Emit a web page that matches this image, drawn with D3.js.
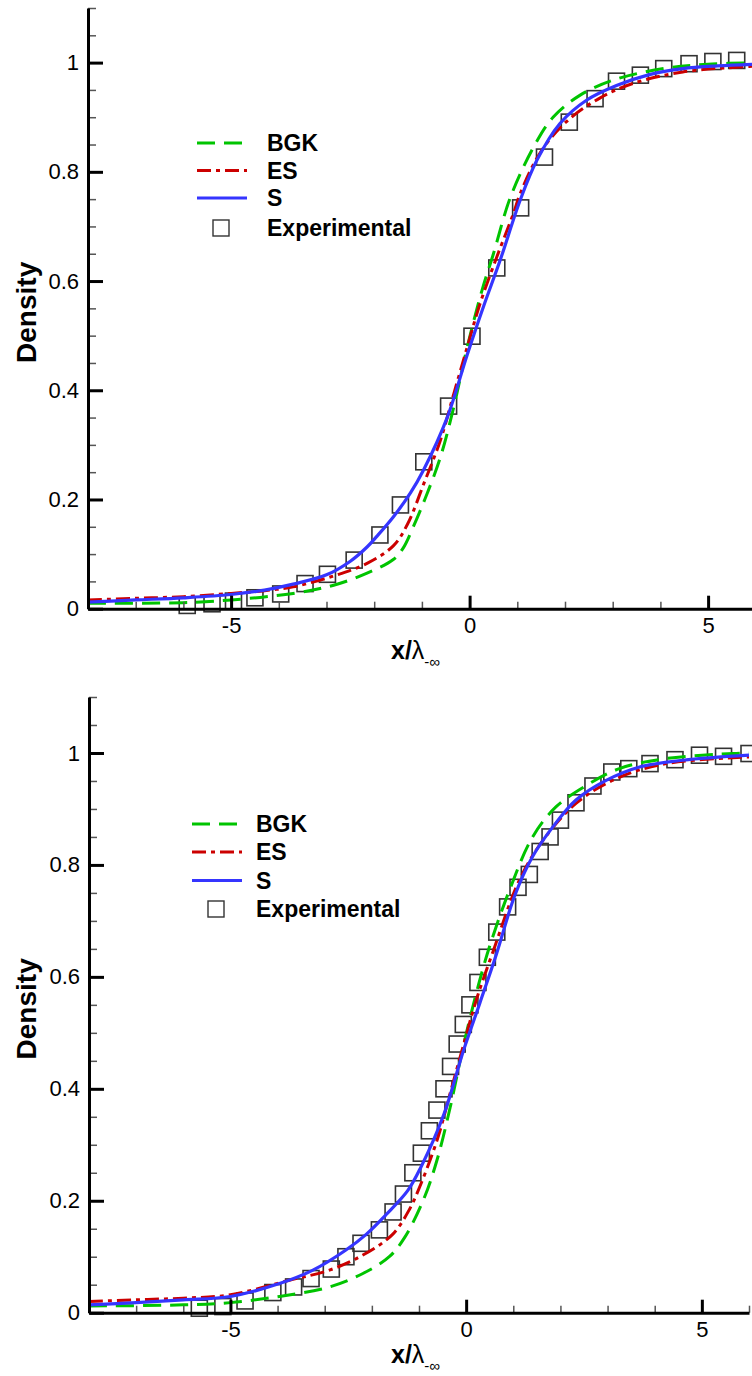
<!DOCTYPE html>
<html>
<head>
<meta charset="utf-8">
<script src="https://cdn.jsdelivr.net/npm/d3@7.9.0/dist/d3.min.js"></script>
<style>
  body { margin: 0; background: #fff; }
  svg { display: block; font-family: "Liberation Sans", Arial, sans-serif; }
</style>
</head>
<body>
<svg id="chart" width="752" height="1376"></svg>
<script>
// ---- data (x / lambda, density) ----
// top panel
const bgk1 = [[-8,0.010],[-6,0.011],[-5,0.016],[-3.7,0.028],[-2.85,0.043],[-2.15,0.065],[-1.6,0.090],[-1.4,0.110],
  [-1.17,0.152],[-0.89,0.211],[-0.61,0.278],[-0.33,0.370],[-0.05,0.479],[0.26,0.583],[0.5,0.650],[0.85,0.752],
  [1.34,0.845],[1.75,0.900],[2.31,0.940],[3.01,0.968],[4.12,0.990],[5.0,0.997],[6,1.0]];
const es1 = [[-8,0.016],[-7,0.019],[-6,0.022],[-5,0.028],[-4.3,0.033],[-3.7,0.040],[-2.85,0.060],[-2.15,0.083],
  [-1.6,0.115],[-1.3,0.155],[-0.96,0.229],[-0.61,0.309],[-0.33,0.394],[-0.05,0.479],[0.22,0.559],[0.57,0.644],
  [0.92,0.724],[1.06,0.760],[1.48,0.835],[2.03,0.892],[2.73,0.935],[3.43,0.962],[4.47,0.983],[5.86,0.993],[6,0.994]];
const s1 = [[-8,0.012],[-7,0.016],[-6,0.020],[-5,0.026],[-4.3,0.034],[-3.7,0.045],[-3.0,0.062],[-2.5,0.087],
  [-2.15,0.113],[-1.94,0.133],[-1.6,0.168],[-1.24,0.212],[-0.96,0.255],[-0.47,0.350],[-0.05,0.465],[0.29,0.553],
  [0.64,0.638],[1.06,0.748],[1.41,0.821],[1.89,0.888],[2.45,0.931],[3.08,0.958],[3.77,0.978],[4.47,0.989],
  [5.2,0.994],[6,0.997]];
const exp1 = [[-5.92,0.006],[-5.4,0.009],[-4.95,0.014],[-4.5,0.020],[-3.96,0.027],[-3.45,0.046],[-2.98,0.063],
  [-2.42,0.089],[-1.88,0.135],[-1.45,0.19],[-0.96,0.269],[-0.44,0.371],[0.05,0.499],[0.57,0.624],[1.07,0.734],
  [1.57,0.827],[2.09,0.891],[2.63,0.934],[3.08,0.966],[3.58,0.977],[4.07,0.989],[4.6,0.998],[5.1,1.002],[5.6,1.004]];

// bottom panel
const bgk2 = [[-8,0.012],[-6,0.014],[-5,0.018],[-3.96,0.029],[-2.9,0.046],[-2.19,0.070],[-1.63,0.100],[-1.3,0.135],
  [-0.89,0.205],[-0.61,0.275],[-0.33,0.370],[-0.05,0.480],[0.26,0.585],[0.5,0.655],[0.92,0.755],[1.41,0.850],
  [1.91,0.904],[2.55,0.942],[3.25,0.972],[4.24,0.990],[5.66,0.999],[6,1.0]];
const es2 = [[-8,0.020],[-7,0.023],[-6,0.026],[-5,0.032],[-3.75,0.058],[-2.9,0.076],[-2.19,0.103],[-1.56,0.140],
  [-1.2,0.185],[-0.96,0.230],[-0.61,0.310],[-0.33,0.395],[-0.05,0.480],[0.22,0.560],[0.57,0.645],[1.13,0.773],
  [1.63,0.844],[2.33,0.910],[3.18,0.954],[4.24,0.981],[6,0.993]];
const s2 = [[-8,0.014],[-7,0.018],[-6,0.023],[-5,0.029],[-3.96,0.052],[-3.25,0.076],[-2.55,0.112],[-2.12,0.140],
  [-1.7,0.175],[-1.24,0.218],[-0.96,0.260],[-0.47,0.355],[-0.05,0.470],[0.29,0.553],[0.64,0.640],[1.03,0.745],
  [1.41,0.815],[1.84,0.868],[2.33,0.916],[2.97,0.951],[3.68,0.975],[4.6,0.987],[6,0.996]];
const exp2 = [[-5.66,0.008],[-5.16,0.011],[-4.69,0.021],[-4.1,0.036],[-3.66,0.046],[-3.29,0.061],[-2.86,0.078],
  [-2.55,0.100],[-2.23,0.124],[-1.84,0.148],[-1.55,0.180],[-1.33,0.212],[-1.13,0.25],[-0.95,0.285],[-0.78,0.325],
  [-0.62,0.362],[-0.47,0.40],[-0.33,0.44],[-0.19,0.48],[-0.06,0.515],[0.08,0.55],[0.25,0.59],[0.45,0.635],[0.65,0.68],
  [0.88,0.725],[1.1,0.76],[1.34,0.783],[1.57,0.824],[1.78,0.85],[2.0,0.88],[2.33,0.911],[2.69,0.941],[3.09,0.966],
  [3.45,0.972],[3.9,0.981],[4.43,0.988],[4.95,0.996],[5.46,0.994],[6.0,0.999]];

const legendNames = ['BGK', 'ES', 'S', 'Experimental'];
const yMajor = [0, 0.2, 0.4, 0.6, 0.8, 1];
const yMinor = d3.range(1, 23).map(i => i * 0.05).filter(v => Math.abs(v / 0.2 - Math.round(v / 0.2)) > 1e-6);
const xMajor = [-5, 0, 5];
const xMinor = [-7, -6, -4, -3, -2, -1, 1, 2, 3, 4, 6];

const styles = {
  BGK: { color: '#00c400', dash: '18,9', width: 3 },
  ES:  { color: '#cc0000', dash: '14,5,4,5', width: 3 },
  S:   { color: '#3535ff', dash: null, width: 3.2 },
};

const svg = d3.select('#chart');

function drawPanel(p) {
  const x = d3.scaleLinear().domain([-8, 6]).range([p.left, p.right]);
  const y = d3.scaleLinear().domain([0, 1.1]).range([p.bottom, p.top]);
  const g = svg.append('g');

  const line = d3.line().x(d => x(d[0])).y(d => y(d[1])).curve(d3.curveCatmullRom.alpha(0.5));
  const series = [['BGK', p.bgk], ['ES', p.es], ['S', p.s]];

  // squares first, lines over them
  g.append('g').selectAll('rect')
    .data(p.exp)
    .join('rect')
    .attr('x', d => x(d[0]) - 8)
    .attr('y', d => y(d[1]) - 8)
    .attr('width', 16)
    .attr('height', 16)
    .attr('fill', 'none')
    .attr('stroke', '#333')
    .attr('stroke-width', 1.6);

  series.forEach(([name, data]) => {
    const st = styles[name];
    g.append('path')
      .datum(data)
      .attr('d', line)
      .attr('fill', 'none')
      .attr('stroke', st.color)
      .attr('stroke-width', st.width)
      .attr('stroke-dasharray', st.dash);
  });

  // y axis: minor then major ticks, pointing inward
  const yMin = g.append('g').attr('transform', `translate(${p.left},0)`)
    .call(d3.axisLeft(y).tickValues(yMinor).tickSize(-8).tickSizeOuter(0).tickFormat(''));
  yMin.select('.domain').remove();
  yMin.selectAll('.tick line').attr('stroke', '#555').attr('stroke-width', 1.5);

  const yAx = g.append('g').attr('transform', `translate(${p.left},0)`)
    .call(d3.axisLeft(y).tickValues(yMajor).tickSize(-15).tickSizeOuter(0).tickPadding(9)
      .tickFormat(d => String(d)));
  yAx.select('.domain').attr('stroke', '#000').attr('stroke-width', 3);
  yAx.selectAll('.tick line').attr('stroke-width', 3);
  yAx.selectAll('.tick text').attr('font-size', 22).attr('font-family', '"Liberation Sans", Arial, sans-serif');

  // x axis
  const xMin = g.append('g').attr('transform', `translate(0,${p.bottom})`)
    .call(d3.axisBottom(x).tickValues(xMinor).tickSize(-7).tickSizeOuter(0).tickFormat(''));
  xMin.select('.domain').remove();
  xMin.selectAll('.tick line').attr('stroke', '#555').attr('stroke-width', 1.5);

  const xAx = g.append('g').attr('transform', `translate(0,${p.bottom})`)
    .call(d3.axisBottom(x).tickValues(xMajor).tickSize(-13).tickSizeOuter(0).tickPadding(9)
      .tickFormat(d => String(d)));
  xAx.select('.domain').attr('stroke', '#000').attr('stroke-width', 3);
  xAx.selectAll('.tick line').attr('stroke-width', 3);
  xAx.selectAll('.tick text').attr('font-size', 22).attr('font-family', '"Liberation Sans", Arial, sans-serif');

  // axis titles
  const mid = (p.top + p.bottom) / 2 + 4;
  g.append('text')
    .attr('transform', `translate(36,${mid}) rotate(-90)`)
    .attr('text-anchor', 'middle')
    .attr('font-size', 28)
    .attr('font-weight', 'bold')
    .text('Density');

  const xt = g.append('text')
    .attr('x', 391)
    .attr('y', p.bottom + 50)
    .attr('font-size', 25);
  xt.append('tspan').attr('font-weight', 'bold').text('x/');
  xt.append('tspan').text('λ');
  xt.append('tspan').attr('font-size', 15).attr('dy', 8).text('-∞');

  // legend
  const lg = g.append('g');
  legendNames.forEach((name, i) => {
    const ly = p.legY[i];
    if (styles[name]) {
      const st = styles[name];
      lg.append('line')
        .attr('x1', p.legX).attr('x2', p.legX + 50)
        .attr('y1', ly).attr('y2', ly)
        .attr('stroke', st.color)
        .attr('stroke-width', st.width)
        .attr('stroke-dasharray', st.dash);
    } else {
      lg.append('rect')
        .attr('x', p.legX + 24 - 8).attr('y', ly - 8)
        .attr('width', 16).attr('height', 16)
        .attr('fill', 'none').attr('stroke', '#333').attr('stroke-width', 1.4);
    }
    lg.append('text')
      .attr('x', p.legText)
      .attr('y', ly + 8)
      .attr('font-size', 23)
      .attr('font-weight', 'bold')
      .text(name);
  });
}

drawPanel({
  left: 88, right: 755.8, top: 8, bottom: 608.7,
  bgk: bgk1, es: es1, s: s1, exp: exp1,
  legX: 197, legText: 267, legY: [143, 170.5, 198, 228],
});

drawPanel({
  left: 89, right: 749, top: 697, bottom: 1312.7,
  bgk: bgk2, es: es2, s: s2, exp: exp2,
  legX: 192, legText: 256, legY: [824, 852, 880.5, 909],
});
</script>
</body>
</html>
